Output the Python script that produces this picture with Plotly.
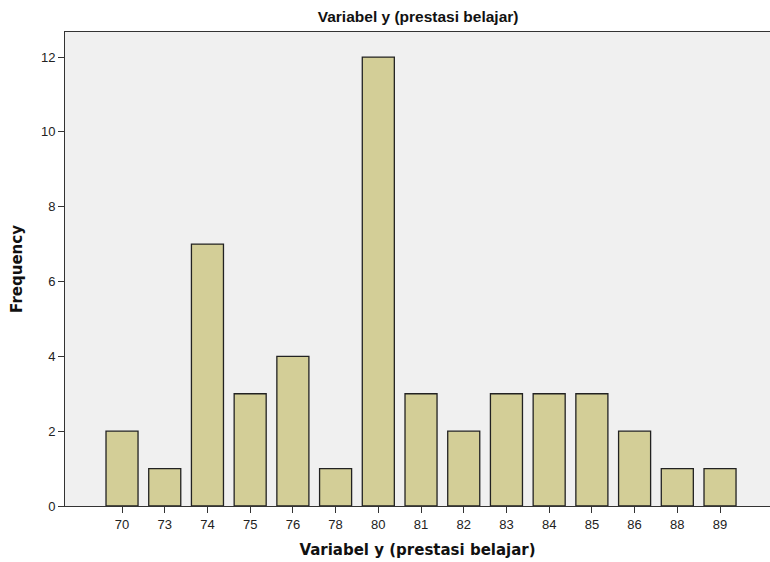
import plotly.graph_objects as go

categories = ["70", "73", "74", "75", "76", "78", "80", "81", "82", "83", "84", "85", "86", "88", "89"]
frequency = [2, 1, 7, 3, 4, 1, 12, 3, 2, 3, 3, 3, 2, 1, 1]
y_ticks = [0, 2, 4, 6, 8, 10, 12]

fig = go.Figure(go.Bar(
    x=categories, y=frequency,
    marker=dict(color="#D3CE97", line=dict(color="#222222", width=1.3)),
    width=0.75,
))

fig.update_layout(
    width=770, height=562,
    margin=dict(l=65, r=0, t=32, b=56),
    paper_bgcolor="white", plot_bgcolor="#F0F0F0",
    font=dict(family="Arial, Liberation Sans, sans-serif", color="#222222", size=13),
    title=dict(text="<b>Variabel y (prestasi belajar)</b>", x=0.543, xanchor="center",
               y=0.97, yanchor="middle",
               font=dict(family="Arial, Liberation Sans, sans-serif", size=15.5, color="#111111")),
    showlegend=False, bargap=0.25,
)
fig.update_xaxes(
    type="category", range=[-1.335, 15.17], automargin=False,
    showline=True, linecolor="#333333", linewidth=1, mirror=True,
    ticks="outside", ticklen=6, tickcolor="#333333", showgrid=False,
    title=dict(text="<b>Variabel y (prestasi belajar)</b>",
               font=dict(family="DejaVu Sans, Verdana, sans-serif", size=15, color="#111111"),
               standoff=13),
)
fig.update_yaxes(
    range=[0, 12.67], tickvals=y_ticks, automargin=False,
    showline=True, linecolor="#333333", linewidth=1, mirror=True,
    ticks="outside", ticklen=6, tickcolor="#333333", showgrid=False, zeroline=False,
    title=dict(text="<b>Frequency</b>",
               font=dict(family="DejaVu Sans, Verdana, sans-serif", size=15, color="#111111"),
               standoff=14),
)

# remove the default page margin so the 770x562 figure fills the window exactly
fig.write_html(
    "out.html",
    config={"displayModeBar": False},
    post_script="document.body.style.margin='0';document.documentElement.style.overflow='hidden';",
)
